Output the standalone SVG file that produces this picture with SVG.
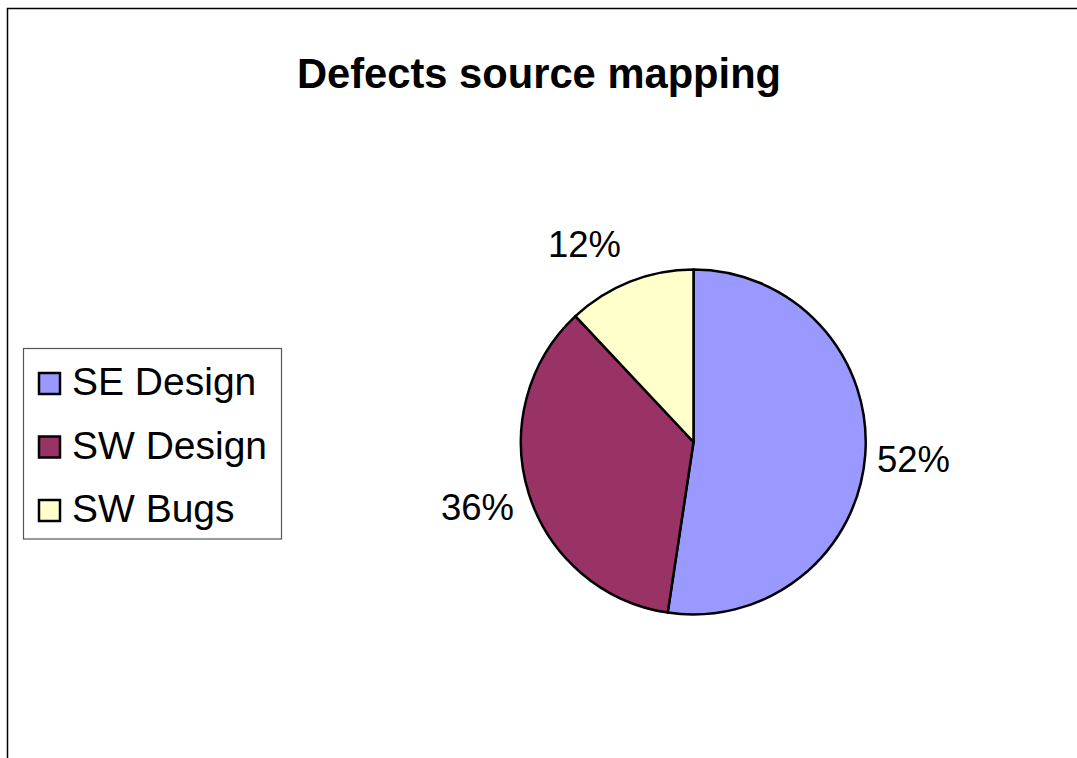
<svg xmlns="http://www.w3.org/2000/svg" width="1077" height="758" viewBox="0 0 1077 758">
  <style>
    text { font-family: "Liberation Sans", Arial, sans-serif; fill: #000; }
    .title { font-size: 41.7px; font-weight: bold; }
    .pct { font-size: 36.5px; }
    .leg { font-size: 39px; }
    .slice { stroke: #000; stroke-width: 2.5; stroke-linejoin: round; }
    .swatch { stroke: #000; stroke-width: 2.5; }
  </style>
  <rect width="1077" height="758" fill="#fff"/>
  <!-- chart area border (runs off the right and bottom edges) -->
  <path d="M7.5,758 V8.5 H1077" fill="none" stroke="#000" stroke-width="1.5"/>

  <text class="title" x="539" y="88" text-anchor="middle">Defects source mapping</text>

  <!-- pie slices -->
  <g id="pie">
    <path id="slice-se-design" class="slice" fill="#9999FF" d="M693.5,442 L693.5,269.5 A172.5,172.5 0 1 1 667.7,612.6 Z"/>
    <path id="slice-sw-design" class="slice" fill="#993366" d="M693.5,442 L667.7,612.6 A172.5,172.5 0 0 1 575.4,316.2 Z"/>
    <path id="slice-sw-bugs" class="slice" fill="#FFFFCC" d="M693.5,442 L575.4,316.2 A172.5,172.5 0 0 1 693.5,269.5 Z"/>
  </g>

  <!-- data labels -->
  <g id="labels">
    <text class="pct" x="877" y="472">52%</text>
    <text class="pct" x="441" y="520">36%</text>
    <text class="pct" x="548" y="257">12%</text>
  </g>

  <!-- legend -->
  <g id="legend">
    <rect x="23.5" y="348.5" width="258" height="190.5" fill="#fff" stroke="#555" stroke-width="1.2"/>
    <g id="legend-se-design">
      <rect class="swatch" x="39" y="373" width="21" height="21" fill="#9999FF"/>
      <text class="leg" x="72" y="395">SE Design</text>
    </g>
    <g id="legend-sw-design">
      <rect class="swatch" x="39" y="436.5" width="21" height="21" fill="#993366"/>
      <text class="leg" x="72" y="458.5">SW Design</text>
    </g>
    <g id="legend-sw-bugs">
      <rect class="swatch" x="39" y="500" width="21" height="21" fill="#FFFFCC"/>
      <text class="leg" x="72" y="522">SW Bugs</text>
    </g>
  </g>
</svg>
